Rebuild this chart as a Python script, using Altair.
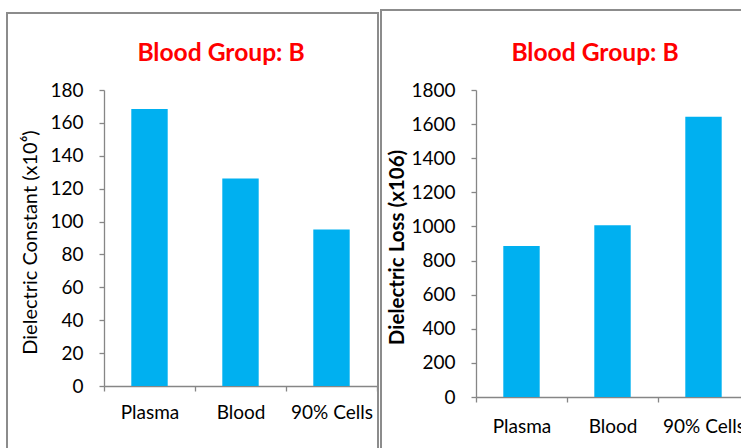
import altair as alt
import pandas as pd

# Data
categories = ["Plasma", "Blood", "90% Cells"]
constant_values = [168.5, 126.2, 95.1]
loss_values = [886, 1007, 1643]
panel_title = "Blood Group: B"
constant_title = "Dielectric Constant (x10\u2076)"
loss_title = "Dielectric Loss (x106)"

# Styling
FONT = "Lato"
BAR = "#00B0F0"
AXIS_GREY = "#868686"
FRAME_GREY = "#8C8C8C"
TITLE_RED = "#FF0000"

PLOT_W = 273


def one_value():
    return alt.Data(values=[{"k": 0}])


def panel(values, ymax, step, height, ytitle, ytitle_weight, ytitle_size,
          ytitle_x, ytitle_y, xlabel_pad, frame, title_x, spacer_y=None):
    df = pd.DataFrame({"category": categories, "value": values})

    bars = alt.Chart(df).mark_bar(
        color=BAR, width=alt.RelativeBandSize(0.4)
    ).encode(
        x=alt.X(
            "category:N",
            sort=categories,
            scale=alt.Scale(paddingInner=0, paddingOuter=0),
            axis=alt.Axis(
                title=None,
                labelAngle=0,
                tickBand="extent",
                labelPadding=xlabel_pad,
            ),
        ),
        y=alt.Y(
            "value:Q",
            scale=alt.Scale(domain=[0, ymax], nice=False),
            axis=alt.Axis(
                values=list(range(0, ymax + 1, step)),
                format="d",
                title=ytitle,
                titleFontWeight=ytitle_weight,
                titleFontSize=ytitle_size,
                titleX=ytitle_x,
                titleY=ytitle_y,
                titleAngle=270,
                titleAlign="center",
                titleBaseline="middle",
                labelPadding=16,
            ),
        ),
    )

    fx0, fx1, fy0, fy1 = frame
    border = alt.Chart(one_value()).mark_rect(
        filled=False, stroke=FRAME_GREY, strokeWidth=2
    ).encode(
        x=alt.value(fx0), x2=alt.value(fx1), y=alt.value(fy0), y2=alt.value(fy1)
    )

    heading = alt.Chart(one_value()).mark_text(
        text=panel_title,
        font=FONT,
        fontSize=24.6,
        fontWeight="bold",
        color=TITLE_RED,
        align="center",
        baseline="alphabetic",
    ).encode(x=alt.value(title_x), y=alt.value(-29))

    layers = [border, bars, heading]
    if spacer_y is not None:
        # keeps both panels' plot areas on the same top line
        spacer = alt.Chart(one_value()).mark_rule(strokeOpacity=0).encode(
            x=alt.value(0), x2=alt.value(10), y=alt.value(spacer_y)
        )
        layers.append(spacer)

    return alt.layer(*layers).properties(width=PLOT_W, height=height)


left = panel(
    constant_values, 180, 20, 296, constant_title, "normal", 20, -74, 152, 12,
    frame=(-97, 274, -77, 362), title_x=117, spacer_y=-81,
)
right = panel(
    loss_values, 1800, 200, 307, loss_title, "bold", 20.5, -79, 157, 15,
    frame=(-95, 280, -80, 362), title_x=119,
)

# The page is a fixed 741 x 448 canvas; anything beyond it is cut off.
chart = alt.hconcat(left, right, spacing=1).properties(
    autosize=alt.AutoSizeParams(type="none"),
    padding={"left": 104, "top": 90, "right": 637, "bottom": 358},
).configure_view(
    stroke=None
).configure_axis(
    grid=False,
    domainColor=AXIS_GREY,
    domainWidth=1.3,
    tickColor=AXIS_GREY,
    tickWidth=1.3,
    tickSize=5,
    labelFont=FONT,
    labelFontSize=19,
    labelColor="#000000",
    titleFont=FONT,
    titleFontSize=19,
    titleColor="#000000",
)

chart.save("out.html", embed_options={"renderer": "svg", "actions": False})
